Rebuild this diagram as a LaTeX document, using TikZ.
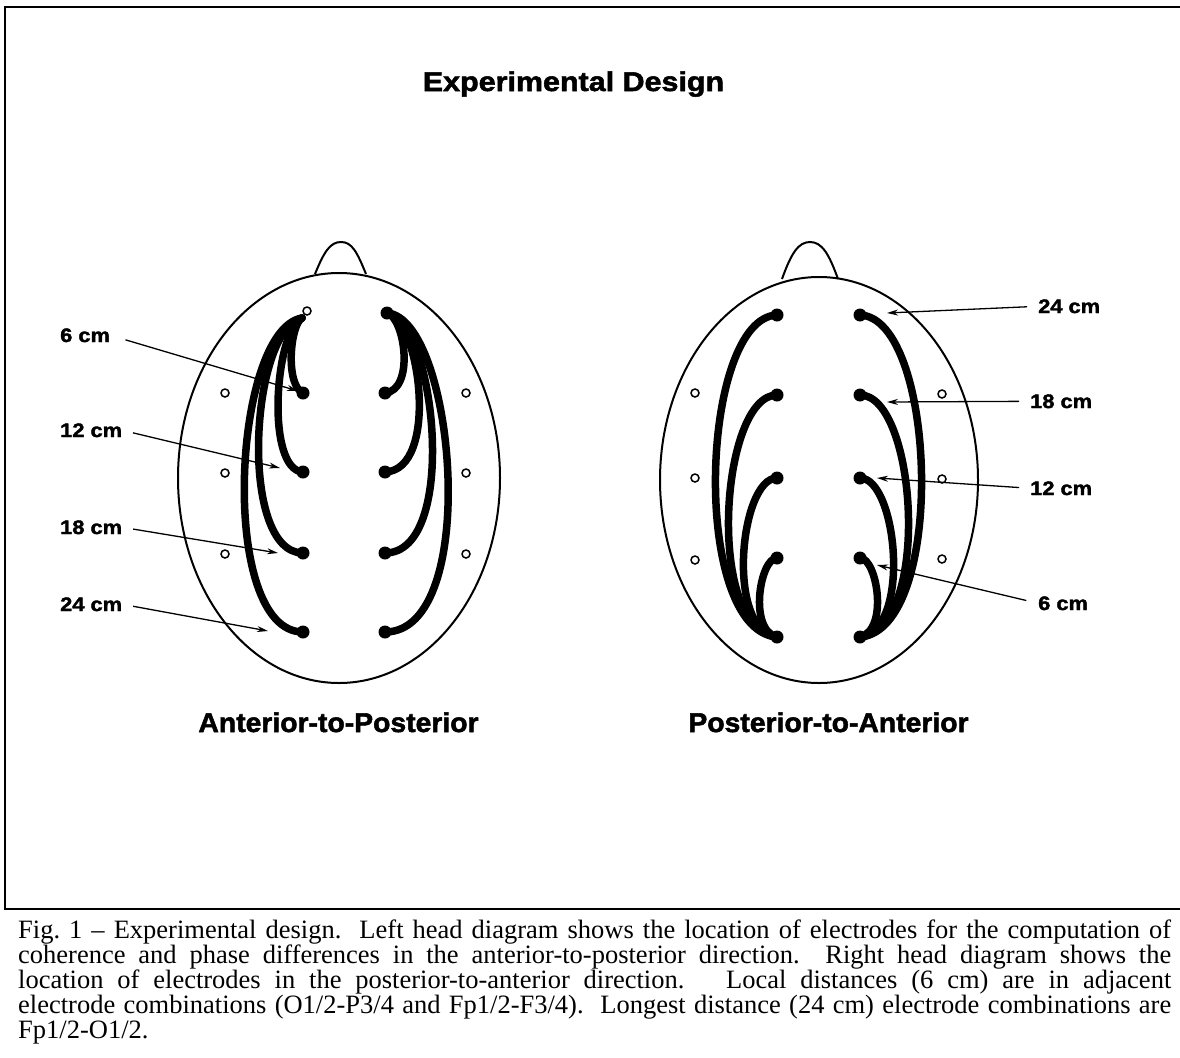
\documentclass[tikz,border=0pt]{standalone}
\usepackage{fontspec}
\setmainfont{Liberation Serif}
\newfontfamily\hv{Liberation Sans}[FakeStretch=1.12, BoldFeatures={FakeBold=2}]
\usetikzlibrary{arrows.meta}
\begin{document}
\begin{tikzpicture}[x=1pt,y=-1pt,
  frame/.style={line width=2pt},
  head/.style={line width=2pt},
  conn/.style={line width=7.5pt, line cap=round},
  dotnode/.style={circle, fill=black, minimum size=13pt, inner sep=0pt},
  elec/.style={circle, draw, fill=white, line width=1.5pt, minimum size=8pt, inner sep=0pt},
  lab/.style={font=\hv\bfseries\fontsize{19.5}{20}\selectfont, inner sep=0pt},
  big/.style={font=\hv\bfseries\fontsize{27.2}{28}\selectfont, inner sep=0pt},
  arr/.style={line width=1.3pt, -{Stealth[length=11pt,width=6pt]}}
]
\useasboundingbox (0,0) rectangle (1180,1057);
\fill[white] (0,0) rectangle (1180,1057);
% frame
\draw[frame] (1180,7) -- (5,7) -- (5,909) -- (1180,909);
% title
\node[big, anchor=base] (title) at (573.5,91) {Experimental Design};

% ---------------- left head ----------------
\draw[head] (339,478) ellipse [x radius=161, y radius=205];
\draw[head] (315,274) .. controls (324,252) and (330,242) .. (341,242) .. controls (352,242) and (357,252) .. (366,274);
% lateral electrodes
\node[elec] (LL1) at (225,393) {};
\node[elec] (LL2) at (225,473) {};
\node[elec] (LL3) at (225,554) {};
\node[elec] (LR1) at (466,393) {};
\node[elec] (LR2) at (466,473) {};
\node[elec] (LR3) at (466,554) {};
% electrode nodes
\coordinate (LA0) at (302,318);
\node[dotnode] (LA1) at (303,393) {};
\node[dotnode] (LA2) at (303,472) {};
\node[dotnode] (LA3) at (303,553) {};
\node[dotnode] (LA4) at (303,632) {};
\node[dotnode] (LB0) at (387,313) {};
\node[dotnode] (LB1) at (385,393) {};
\node[dotnode] (LB2) at (385,472) {};
\node[dotnode] (LB3) at (385,553) {};
\node[dotnode] (LB4) at (385,632) {};
% arcs left column
\draw[conn] (LA0) .. controls (290,325) and (285,385) .. (LA1.center);
\draw[conn] (LA0) .. controls (275,330) and (265,470) .. (LA2.center);
\draw[conn] (LA0) .. controls (250,330) and (238,553) .. (LA3.center);
\draw[conn] (LA0) .. controls (232,330) and (218,632) .. (LA4.center);
\node[elec] (LAT) at (307,311) {};
% arcs right column
\draw[conn] (LB0.center) .. controls (405,318) and (415,390) .. (LB1.center);
\draw[conn] (LB0.center) .. controls (420,318) and (440,470) .. (LB2.center);
\draw[conn] (LB0.center) .. controls (435,318) and (460,553) .. (LB3.center);
\draw[conn] (LB0.center) .. controls (455,318) and (482,632) .. (LB4.center);
% labels
\node[lab, anchor=base west] (l6) at (60,342) {6 cm};
\node[lab, anchor=base west] (l12) at (60,437) {12 cm};
\node[lab, anchor=base west] (l18) at (60,534) {18 cm};
\node[lab, anchor=base west] (l24) at (60,611) {24 cm};
\coordinate (t6) at (298,391);
\coordinate (t12) at (280,468);
\coordinate (t18) at (278,553);
\coordinate (t24) at (268,631);
\draw[arr, shorten <=16pt] (l6.east) -- (t6);
\draw[arr, shorten <=11pt] (l12.east) -- (t12);
\draw[arr, shorten <=11pt] (l18.east) -- (t18);
\draw[arr, shorten <=11pt] (l24.east) -- (t24);
\node[big, anchor=base, xscale=0.93] (sub1) at (338.5,732) {Anterior-to-Posterior};

% ---------------- right head ----------------
\draw[head] (819,480) ellipse [x radius=159, y radius=203];
\draw[head] (782,279) .. controls (791,254) and (798,242) .. (810,242) .. controls (822,242) and (829,254) .. (838,279);
\node[elec] (RL1) at (695,393) {};
\node[elec] (RL2) at (695,478) {};
\node[elec] (RL3) at (695,560) {};
\node[elec] (RR1) at (942,394) {};
\node[elec] (RR2) at (942,479) {};
\node[elec] (RR3) at (942,559) {};
\node[dotnode] (RA1) at (777,315) {};
\node[dotnode] (RA2) at (777,395) {};
\node[dotnode] (RA3) at (777,478) {};
\node[dotnode] (RA4) at (777,558) {};
\node[dotnode] (RA0) at (777,637) {};
\node[dotnode] (RB1) at (860,315) {};
\node[dotnode] (RB2) at (860,395) {};
\node[dotnode] (RB3) at (860,478) {};
\node[dotnode] (RB4) at (860,558) {};
\node[dotnode] (RB0) at (860,637) {};
\draw[conn] (RA1.center) .. controls (700,318) and (690,630) .. (RA0.center);
\draw[conn] (RA2.center) .. controls (720,395) and (705,630) .. (RA0.center);
\draw[conn] (RA3.center) .. controls (740,478) and (725,630) .. (RA0.center);
\draw[conn] (RA4.center) .. controls (760,558) and (748,630) .. (RA0.center);
\draw[conn] (RB1.center) .. controls (937,318) and (947,630) .. (RB0.center);
\draw[conn] (RB2.center) .. controls (917,395) and (932,630) .. (RB0.center);
\draw[conn] (RB3.center) .. controls (897,478) and (912,630) .. (RB0.center);
\draw[conn] (RB4.center) .. controls (877,558) and (889,630) .. (RB0.center);
\node[lab, anchor=base west] (r24) at (1038,313) {24 cm};
\node[lab, anchor=base west] (r18) at (1030,408) {18 cm};
\node[lab, anchor=base west] (r12) at (1030,495) {12 cm};
\node[lab, anchor=base west] (r6) at (1038,610) {6 cm};
\coordinate (u24) at (887,313);
\coordinate (u18) at (887,402);
\coordinate (u12) at (877,478);
\coordinate (u6) at (877,565);
\draw[arr, shorten <=11pt] (r24.west) -- (u24);
\draw[arr, shorten <=11pt] (r18.west) -- (u18);
\draw[arr, shorten <=11pt] (r12.west) -- (u12);
\draw[arr, shorten <=12pt] (r6.west) -- (u6);
\node[big, anchor=base, xscale=0.93] (sub2) at (828.5,732) {Posterior-to-Anterior};

% ---------------- caption ----------------
\node[anchor=base west, inner sep=0pt] (caption) at (18,938) {\parbox[t]{1153pt}{\fontsize{26.5}{25}\selectfont\frenchspacing\tolerance=10000\hyphenpenalty=10000
Fig. 1 -- Experimental design.\ \ Left head diagram shows the location of electrodes for the computation of\linebreak
coherence and phase differences in the anterior-to-posterior direction.\ \ Right head diagram shows the\linebreak
location of electrodes in the posterior-to-anterior direction.\ \ \ Local distances (6 cm) are in adjacent\linebreak
electrode combinations (O1/2-P3/4 and Fp1/2-F3/4).\ \ Longest distance (24 cm) electrode combinations are\linebreak
Fp1/2-O1/2.}};
\end{tikzpicture}
\end{document}
